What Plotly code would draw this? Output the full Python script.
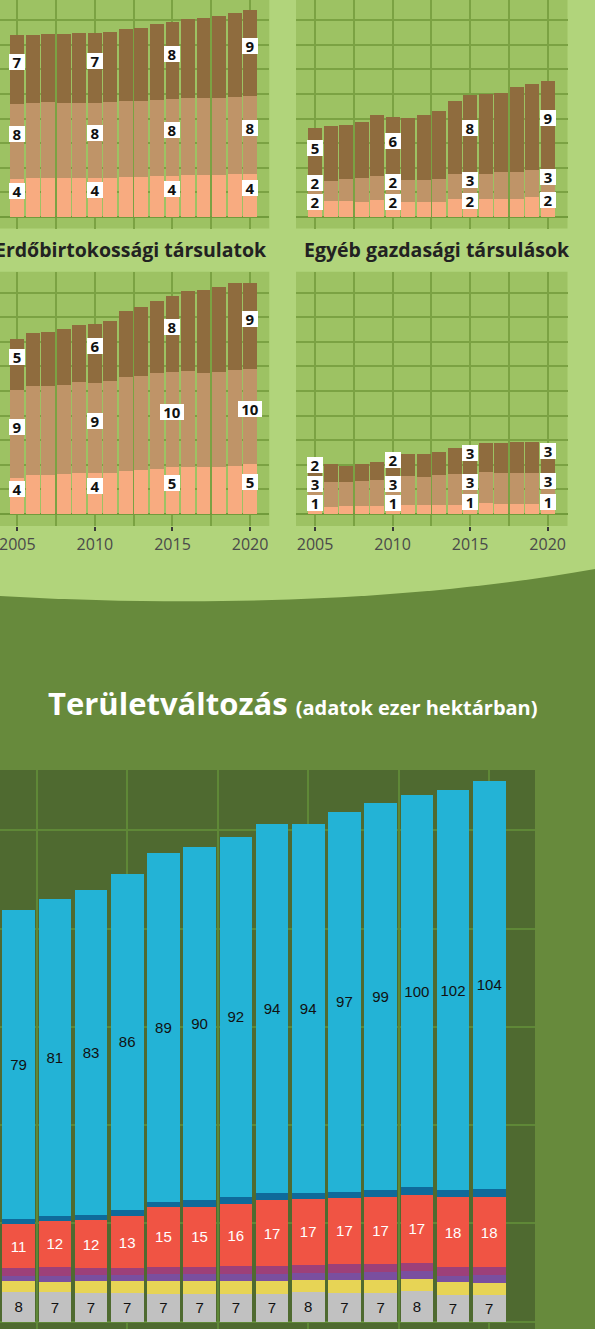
import plotly.graph_objects as go

W, H = 595, 1329

# ---------------- data ----------------
years = list(range(2005, 2021))

# top-left small panel (title cropped)
tl_low = [3.9, 4.0, 4.0, 4.0, 4.0, 4.0, 4.0, 4.1, 4.1, 4.2, 4.2, 4.3, 4.3, 4.3, 4.4, 4.4]
tl_mid = [7.6, 7.6, 7.7, 7.6, 7.6, 7.6, 7.7, 7.7, 7.7, 7.7, 7.8, 7.8, 7.8, 7.8, 7.8, 7.9]
tl_top = [7.0, 6.9, 6.9, 7.0, 7.1, 7.1, 7.1, 7.3, 7.4, 7.7, 7.8, 8.0, 8.1, 8.3, 8.5, 8.7]

# top-right small panel (title cropped)
tr_low = [1.6, 1.6, 1.6, 1.5, 1.7, 1.7, 1.5, 1.5, 1.5, 1.8, 1.8, 1.8, 1.8, 1.8, 2.0, 2.0]
tr_mid = [2.0, 2.1, 2.3, 2.5, 2.5, 2.2, 2.3, 2.3, 2.4, 2.6, 2.6, 2.6, 2.75, 2.75, 2.75, 2.8]
tr_top = [5.4, 5.5, 5.5, 5.7, 6.2, 6.3, 6.3, 6.6, 6.85, 7.4, 7.95, 8.1, 8.1, 8.7, 8.8, 9.0]

# Erdőbirtokossági társulatok
eb_low = [3.7, 4.0, 4.0, 4.1, 4.2, 4.2, 4.2, 4.4, 4.5, 4.6, 4.8, 4.8, 4.8, 4.8, 4.9, 5.1]
eb_mid = [8.9, 9.05, 9.05, 9.05, 9.25, 9.15, 9.35, 9.55, 9.55, 9.75, 9.65, 9.75, 9.55, 9.65, 9.75, 9.65]
eb_top = [5.2, 5.3, 5.4, 5.7, 5.8, 6.0, 6.1, 6.7, 7.0, 7.3, 7.7, 8.1, 8.4, 8.6, 8.85, 8.75]

# Egyéb gazdasági társulások
eg_low = [0.8, 0.75, 0.85, 0.85, 0.85, 0.9, 0.95, 0.95, 0.95, 0.95, 1.0, 1.15, 1.05, 1.05, 1.05, 1.05]
eg_mid = [2.6, 2.5, 2.4, 2.5, 2.6, 2.7, 2.9, 2.8, 3.0, 3.1, 3.1, 3.1, 3.1, 3.1, 3.1, 3.1]
eg_top = [1.7, 1.8, 1.6, 1.7, 1.85, 2.4, 2.25, 2.35, 2.35, 2.65, 2.7, 2.95, 3.05, 3.15, 3.15, 3.0]

label_years = [2005, 2010, 2015, 2020]
panel_titles = ["Erdőbirtokossági társulatok", "Egyéb gazdasági társulások"]
tick_years = [2005, 2010, 2015, 2020]

# Területváltozás (ezer hektár)
area_years = list(range(2007, 2021))
area_gray = [7.6, 7.45, 7.3, 7.3, 7.05, 7.05, 7.05, 7.05, 7.55, 7.3, 7.3, 7.8, 6.8, 6.8]
area_yellow = [2.7, 2.7, 3.05, 3.05, 3.3, 3.3, 3.3, 3.3, 3.05, 3.3, 3.3, 3.05, 3.3, 3.05]
area_purple = [1.45, 1.45, 1.45, 1.45, 1.85, 1.85, 1.85, 1.85, 1.8, 1.8, 2.1, 2.05, 1.6, 1.95]
area_magenta = [1.85, 2.4, 1.85, 1.85, 1.7, 1.7, 1.95, 1.95, 2.05, 2.3, 1.95, 2.05, 2.2, 2.1]
area_red = [11.2, 11.6, 12.2, 13.2, 15.4, 15.4, 15.8, 16.8, 16.8, 16.8, 17.05, 17.3, 17.8, 17.8]
area_darkblue = [1.25, 1.25, 1.25, 1.55, 1.25, 1.55, 1.8, 1.8, 1.55, 1.55, 1.8, 2.05, 1.8, 2.05]
area_blue = [78.6, 80.6, 82.7, 85.6, 88.6, 90.0, 91.6, 93.9, 93.9, 96.6, 98.6, 99.6, 101.8, 103.9]

main_title = "Területváltozás"
main_subtitle = "(adatok ezer hektárban)"

# ---------------- styles ----------------
LIGHT_BG = "#b1d47b"
PAGE_DARK = "#678a3c"
PANEL_BG = "#9dc263"
PANEL_GRID = "#7ba243"
C_LOW, C_MID, C_TOP = "#f8ab80", "#bf9468", "#8f6c3e"
AREA_BG = "#4f6a30"
AREA_GRID = "#5f8837"
area_colors = ["#c1c1c1", "#e7d455", "#7a4f9f", "#9d4079", "#f05444", "#0f6a9a", "#23b3d6"]
SCALE = 9.84  # px per unit in small panels
LABEL_LIFT = 7     # px
LABEL_MIN_GAP = 19  # px between label centres


def px(xp):
    return xp / W


def py(yp):
    return 1 - yp / H


fig = go.Figure()

# small panel definitions
panels = [
    ("", 0, 269.3, 0, 228.5, 217, [2003.884, 2021.24], (tl_low, tl_mid, tl_top), False),
    ("2", 296, 567.5, 0, 228.5, 217, [2003.77, 2021.28], (tr_low, tr_mid, tr_top), False),
    ("3", 0, 269.3, 271.7, 526, 514, [2003.884, 2021.24], (eb_low, eb_mid, eb_top), True),
    ("4", 296, 567.5, 271.7, 526, 514, [2003.77, 2021.28], (eg_low, eg_mid, eg_top), True),
]

shapes = []
# light green upper area with curved lower edge
path = (f"M 0,1 L 1,1 L 1,{py(569)} "
        f"C {px(450)},{py(595)} {px(250)},{py(610)} 0,{py(596)} Z")
shapes.append(dict(type="path", path=path, xref="paper", yref="paper",
                   fillcolor=LIGHT_BG, line=dict(width=0), layer="below"))

annotations = []
layout_axes = {}

for suf, x0, x1, yt, yb, zp, xr, series, show_ticks in panels:
    shapes.append(dict(type="rect", xref="paper", yref="paper",
                       x0=px(x0), x1=px(x1), y0=py(yb), y1=py(yt),
                       fillcolor=PANEL_BG, line=dict(width=0), layer="below"))
    xa = "x" + suf
    ya = "y" + suf
    yrange = [-(yb - zp) / SCALE, (zp - yt) / SCALE]
    for vals, col in zip(series, (C_LOW, C_MID, C_TOP)):
        fig.add_trace(go.Bar(x=years, y=vals, marker=dict(color=col, line=dict(width=0)),
                             xaxis=xa, yaxis=ya, showlegend=False, hoverinfo="skip"))
    # value labels (nudged apart when they would collide)
    for yr in label_years:
        i = years.index(yr)
        base = 0
        prev = None
        for vals in series:
            v = vals[i]
            t = str(int(v + 0.5))
            centre = base + v / 2
            pos = centre * SCALE + LABEL_LIFT
            if prev is not None and pos < prev + LABEL_MIN_GAP:
                pos = prev + LABEL_MIN_GAP
            prev = pos
            annotations.append(dict(
                x=yr, y=centre, xref=xa, yref=ya, yshift=pos - centre * SCALE,
                text=t, showarrow=False, width=8 + 8 * len(t), height=16,
                align="center", valign="middle",
                font=dict(family="Open Sans", size=15, color="#111111", weight="bold"),
                bgcolor="#ffffff", borderpad=0, borderwidth=0))
            base += v
    xkey = "xaxis" + suf
    ykey = "yaxis" + suf
    layout_axes[xkey] = dict(
        domain=[px(x0), px(x1)], range=xr, anchor=ya,
        tickmode="array", tickvals=tick_years, ticktext=[str(t) for t in tick_years],
        showgrid=True, gridcolor=PANEL_GRID, gridwidth=2,
        minor=dict(dtick=2.5, tick0=2005, showgrid=True, gridcolor=PANEL_GRID, gridwidth=2),
        showticklabels=show_ticks, ticklabeloverflow="allow",
        ticks="outside" if show_ticks else "", ticklen=4, tickwidth=2, tickcolor="#3a3a3a",
        tickfont=dict(family="Open Sans", size=16, color="#4a4a4a"),
        zeroline=False, showline=False, fixedrange=True)
    layout_axes[ykey] = dict(
        domain=[py(yb), py(yt)], range=yrange, anchor=xa,
        tick0=0, dtick=2.5, showgrid=True, gridcolor=PANEL_GRID, gridwidth=2,
        zeroline=True, zerolinecolor="#729b3c", zerolinewidth=2,
        showticklabels=False, ticks="", showline=False, fixedrange=True)

# panel titles
annotations.append(dict(x=px(268.5), y=py(250), xref="paper", yref="paper",
                        xanchor="right", yanchor="middle", showarrow=False,
                        text=panel_titles[0],
                        font=dict(family="Open Sans", size=19.5, color="#222222", weight="bold")))
annotations.append(dict(x=px(437), y=py(250), xref="paper", yref="paper",
                        xanchor="center", yanchor="middle", showarrow=False,
                        text=panel_titles[1],
                        font=dict(family="Open Sans", size=19.5, color="#222222", weight="bold")))

# main title
annotations.append(dict(x=px(46), y=py(703), xref="paper", yref="paper",
                        xanchor="left", yanchor="middle", showarrow=False,
                        text=f"<b>{main_title}</b> <span style='font-size:20px'><b>{main_subtitle}</b></span>",
                        font=dict(family="Open Sans", size=31, color="#ffffff")))

# bottom area chart
AX0, AX1, AYT, AYB, AZ = 0, 535, 770, 1329, 1321.7
ASCALE = 3.93
shapes.append(dict(type="rect", xref="paper", yref="paper",
                   x0=px(AX0), x1=px(AX1), y0=py(AYB), y1=py(AYT),
                   fillcolor=AREA_BG, line=dict(width=0), layer="below"))

area_series = [area_gray, area_yellow, area_purple, area_magenta, area_red, area_darkblue, area_blue]
text_on = [True, False, False, False, True, False, True]
text_col = ["#111111", None, None, None, "#ffffff", None, "#111111"]
for vals, col, ton, tc in zip(area_series, area_colors, text_on, text_col):
    kw = {}
    if ton:
        kw = dict(texttemplate="%{y:.0f}", textposition="inside", insidetextanchor="middle",
                  textangle=0, constraintext="none",
                  textfont=dict(family="Liberation Sans, Arial", size=15, color=tc))
    fig.add_trace(go.Bar(x=area_years, y=vals, marker=dict(color=col, line=dict(width=0)),
                         xaxis="x5", yaxis="y5", showlegend=False, hoverinfo="skip", **kw))

layout_axes["xaxis5"] = dict(
    domain=[px(AX0), px(AX1)], range=[2006.486, 2021.265], anchor="y5",
    tick0=2005, dtick=2.5, showgrid=True, gridcolor=AREA_GRID, gridwidth=2,
    showticklabels=False, ticks="", zeroline=False, showline=False, fixedrange=True)
layout_axes["yaxis5"] = dict(
    domain=[py(AYB), py(AYT)], range=[-(AYB - AZ) / ASCALE, (AZ - AYT) / ASCALE], anchor="x5",
    tick0=0, dtick=25, showgrid=True, gridcolor=AREA_GRID, gridwidth=2,
    showticklabels=False, ticks="", zeroline=False, showline=False, fixedrange=True)

fig.update_layout(
    width=W, height=H, autosize=False,
    margin=dict(l=0, r=0, t=0, b=0, pad=0),
    paper_bgcolor=PAGE_DARK, plot_bgcolor="rgba(0,0,0,0)",
    barmode="stack", bargap=0.1,
    shapes=shapes, annotations=annotations,
    showlegend=False,
    **layout_axes,
)

fig.write_html("out.html", config={"displayModeBar": False, "staticPlot": True},
               post_script="document.body.style.margin='0';document.body.style.overflow='hidden';")
